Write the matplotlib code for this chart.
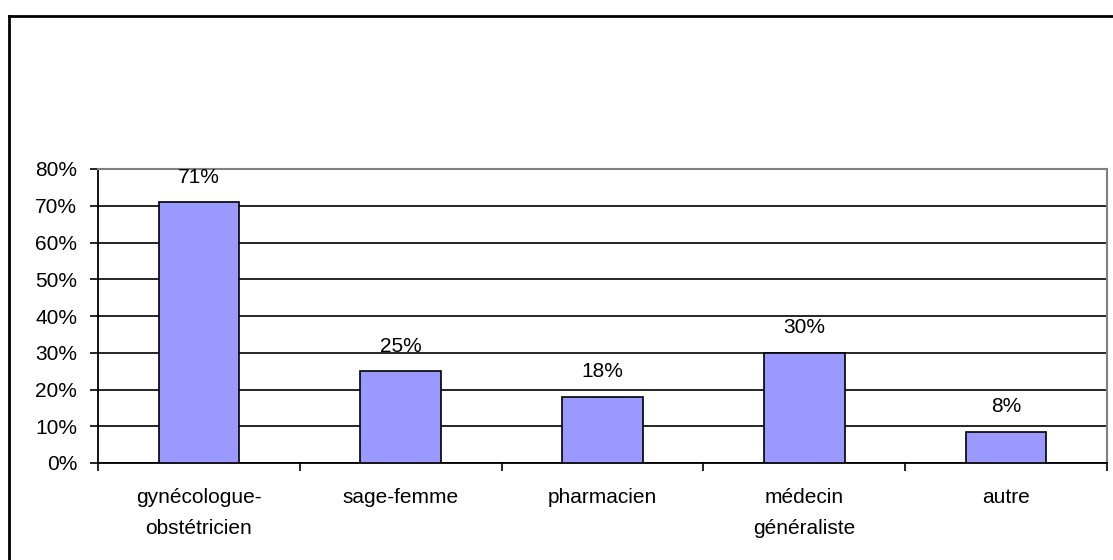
import matplotlib.pyplot as plt
import matplotlib.ticker as mtick
from matplotlib.lines import Line2D
import numpy as np

plt.rcParams['font.family'] = ['Liberation Sans', 'DejaVu Sans']

# data
categories = ['gynécologue-\nobstétricien', 'sage-femme', 'pharmacien',
              'médecin\ngénéraliste', 'autre']
values = [0.71, 0.25, 0.18, 0.30, 0.085]
labels = ['71%', '25%', '18%', '30%', '8%']
yticks = [0, 0.1, 0.2, 0.3, 0.4, 0.5, 0.6, 0.7, 0.8]

W, H = 1113, 560
fig = plt.figure(figsize=(W / 100, H / 100), dpi=100)
fs = 15

# plot area in pixels: left 98, right 1107, top 169, bottom 463
left, right, top, bottom = 98, 1107, 169, 463
ax = fig.add_axes([left / W, 1 - bottom / H, (right - left) / W, (bottom - top) / H])

x = np.arange(len(categories))
ax.bar(x, values, width=0.4, color='#9999FF', edgecolor='black', linewidth=1.2, zorder=3)

ax.set_xlim(-0.5, len(categories) - 0.5)
ax.set_ylim(0, 0.8)
ax.set_yticks(yticks)
ax.yaxis.set_major_formatter(mtick.PercentFormatter(1.0, decimals=0))
ax.yaxis.grid(True, color='black', linewidth=1.2, zorder=0)

ax.set_xticks(x)
ax.set_xticklabels(categories, linespacing=1.8)
ax.set_xticks(np.arange(-0.5, len(categories)), minor=True)
ax.tick_params(axis='x', which='major', length=0, pad=18, labelsize=fs)
ax.tick_params(axis='x', which='minor', length=6, width=1.2, direction='out')
ax.tick_params(axis='y', length=6, width=1.2, direction='out', pad=9, labelsize=fs)

ax.spines['left'].set_linewidth(1.3)
ax.spines['bottom'].set_linewidth(1.3)
ax.spines['top'].set_color('#808080')
ax.spines['right'].set_color('#808080')
ax.spines['top'].set_linewidth(1.5)
ax.spines['right'].set_linewidth(1.5)

for xi, v, lab in zip(x, values, labels):
    ax.annotate(lab, (xi, v), xytext=(0, 25), textcoords='offset pixels',
                ha='center', va='center', fontsize=fs)

# outer chart border
fig.add_artist(Line2D([9 / W, 9 / W], [0, 1 - 15.5 / H], transform=fig.transFigure,
                      color='black', linewidth=2))
fig.add_artist(Line2D([9 / W, 1], [1 - 15.5 / H, 1 - 15.5 / H], transform=fig.transFigure,
                      color='black', linewidth=2))

fig.savefig('out.png', dpi=100)
